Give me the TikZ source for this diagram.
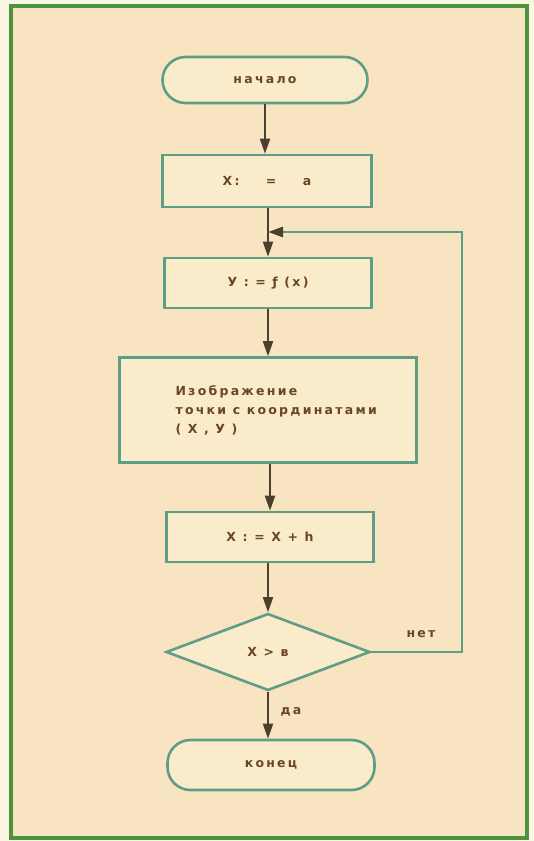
\documentclass[tikz,border=0pt]{standalone}
\usepackage{fontspec}
\setmainfont{DejaVu Sans Bold}[LetterSpace=18]
\usetikzlibrary{shapes.geometric,arrows.meta}
\definecolor{outerbg}{HTML}{FBF6E2}
\definecolor{innerbg}{HTML}{F8E4C0}
\definecolor{framec}{HTML}{4E9440}
\definecolor{boxc}{HTML}{5E9E86}
\definecolor{boxfill}{HTML}{FAEBCB}
\definecolor{arrowc}{HTML}{4A4030}
\definecolor{textc}{HTML}{6A4526}
\tikzset{
  lbl/.style={text=textc,font=\fontsize{12.5}{14}\selectfont},
  blk/.style={draw=boxc,line width=2.6pt,fill=boxfill,rectangle,inner sep=0pt,lbl},
  term/.style={blk,rounded corners=23pt},
  dec/.style={draw=boxc,line width=2.6pt,fill=boxfill,diamond,inner sep=0pt,lbl},
  flow/.style={draw=arrowc,line width=2pt,-{Triangle[length=15pt,width=10pt]}},
  loopl/.style={draw=boxc,line width=2.8pt,-{Triangle[length=15pt,width=10pt,color=arrowc]}},
}
\begin{document}
\begin{tikzpicture}[x=1pt,y=-1pt]
\fill[outerbg] (0,0) rectangle (534,841);
\useasboundingbox (0,0) rectangle (534,841);
\draw[framec,line width=4pt,fill=innerbg] (11,6) rectangle (527,838);

\node[term,minimum width=205pt,minimum height=46pt] (start) at (265,80) {начало};
\node[blk,minimum width=209pt,minimum height=52pt] (s1) at (267,181) {X:~~~~=~~~~a};
\node[blk,minimum width=207pt,minimum height=50pt] (s2) at (268,283) {У : = ƒ (x)};
\node[blk,minimum width=297pt,minimum height=105pt] (s3) at (268,410) {};
\node[lbl,anchor=west,align=left,font=\fontsize{12.5}{19}\selectfont] (s3t) at (172,410) {Изображение\\точки с координатами\\( X , У )};
\node[blk,minimum width=207pt,minimum height=50pt] (s4) at (270,537) {X : = X + h};
\node[dec,minimum width=204pt,minimum height=77pt] (d) at (268,652) {X > в};
\node[term,minimum width=207pt,minimum height=50pt] (end) at (271,765) {конец};

\coordinate (j) at (268,232);
\coordinate (cr) at (462,232);

\draw[flow] (start.south) -- (start.south |- s1.north);
\draw[flow] (s1.south -| j) -- (j |- s2.north);
\draw[flow] (s2.south) -- (s2.south |- s3.north);
\draw[flow] (s3.south -| s4.north) -- (s4.north);
\draw[flow] (s4.south -| d.north) -- (d.north);
\draw[flow] (d.south) -- (d.south |- end.north);
\draw[loopl] (d.east) -| (cr) -- (j);

\node[lbl] (no) at (421,634) {нет};
\node[lbl] (yes) at (291,712) {да};
\end{tikzpicture}
\end{document}
